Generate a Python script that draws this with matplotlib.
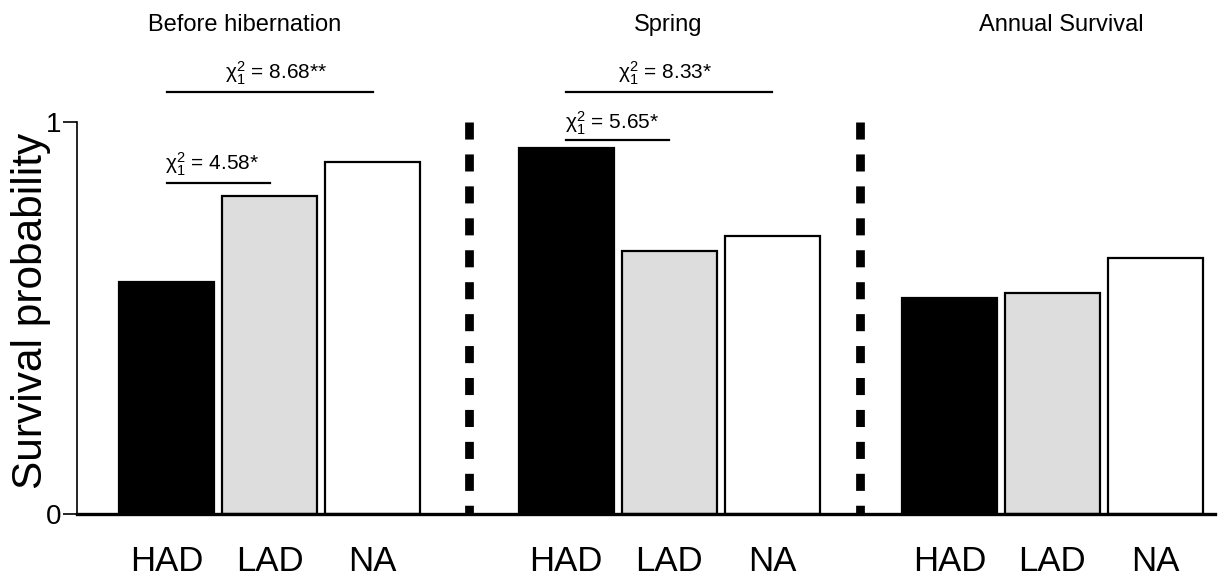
import matplotlib.pyplot as plt

plt.rcParams['font.family'] = ['Liberation Sans', 'DejaVu Sans']
plt.rcParams['mathtext.fontset'] = 'custom'
plt.rcParams['mathtext.rm'] = 'Liberation Sans'
plt.rcParams['mathtext.it'] = 'Liberation Sans:italic'

# survival probabilities per period, groups in order HAD, LAD, NA
periods = ['Before hibernation', 'Spring', 'Annual Survival']
groups = ['HAD', 'LAD', 'NA']
before_hib = [0.592, 0.811, 0.898]
spring = [0.934, 0.671, 0.709]
annual = [0.551, 0.564, 0.653]

# chi-square tests shown above the bars
chi_before = ['8.68**', '4.58*']
chi_spring = ['8.33*', '5.65*']

colors = ['black', '#dddddd', 'white']
starts = [0.0, 3.88, 7.6]
width = 0.92

fig = plt.figure(figsize=(12.28, 5.76), dpi=100)
ax = fig.add_axes([0.0625, 0.1076, 0.927, 0.6806])

xpos = []
for start, vals in zip(starts, [before_hib, spring, annual]):
    xs = [start + i for i in range(3)]
    ax.bar(xs, vals, width=width, color=colors, edgecolor='black', linewidth=1.6)
    xpos += xs

ax.set_xlim(-0.872, 10.18)
ax.set_ylim(0, 1)

# dashed separators between periods
for xd in [2.937, 6.733]:
    ax.plot([xd, xd], [1, 0], color='black', lw=6.3, dashes=(1.95, 1.7),
            solid_capstyle='butt', dash_capstyle='butt')

ax.spines['top'].set_visible(False)
ax.spines['right'].set_visible(False)
ax.spines['left'].set_bounds(0, 1)
ax.spines['left'].set_linewidth(1.2)
ax.spines['bottom'].set_linewidth(2.4)

ax.set_yticks([0, 1])
ax.set_yticklabels(['0', '1'], fontsize=20)
ax.tick_params(axis='y', length=10, width=1.2, pad=1)
ax.set_xticks(xpos)
ax.set_xticklabels(groups * 3, fontsize=25)
ax.tick_params(axis='x', length=0, pad=22)

ax.set_ylabel('Survival probability', fontsize=30.5)
ax.yaxis.set_label_coords(-0.0225, 0.517)

# period titles
for xt, title in zip([0.76, 4.87, 8.69], periods):
    ax.text(xt, 1.247, title, ha='center', va='center', fontsize=17, clip_on=False)

# significance bars and labels
def sig(x0, x1, y, label, tx, ty):
    ax.plot([x0, x1], [y, y], color='black', lw=1.6, clip_on=False)
    ax.text(tx, ty, r'$\mathrm{\chi}^{2}_{1}$ = ' + label, ha='left', va='bottom',
            fontsize=15, clip_on=False)

sig(xpos[0], xpos[2], 1.077, chi_before[0], 0.568, 1.090)
sig(xpos[0], xpos[1], 0.844, chi_before[1], -0.015, 0.856)
sig(xpos[3], xpos[5], 1.077, chi_spring[0], 4.383, 1.090)
sig(xpos[3], xpos[4], 0.954, chi_spring[1], 3.869, 0.963)

fig.savefig('out.png', dpi=100)
